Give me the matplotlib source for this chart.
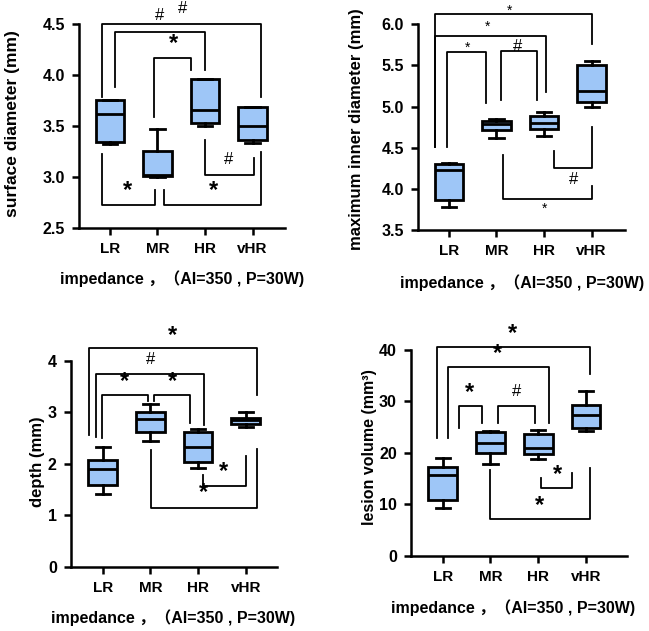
import matplotlib.pyplot as plt
import numpy as np

plt.rcParams['font.family'] = ['Liberation Sans', 'Noto Sans CJK SC']
plt.rcParams['font.weight'] = 'bold'
plt.rcParams['axes.labelweight'] = 'bold'

groups = ['LR', 'MR', 'HR', 'vHR']

# surface diameter (mm)
sd_min = [3.32, 3.00, 3.50, 3.33]
sd_q1 = [3.34, 3.01, 3.53, 3.36]
sd_med = [3.62, 3.02, 3.66, 3.50]
sd_q3 = [3.75, 3.25, 3.96, 3.69]
sd_max = [3.75, 3.47, 3.96, 3.69]

# maximum inner diameter (mm)
mid_min = [3.78, 4.62, 4.64, 5.00]
mid_q1 = [3.86, 4.71, 4.73, 5.05]
mid_med = [4.23, 4.79, 4.80, 5.19]
mid_q3 = [4.30, 4.83, 4.88, 5.51]
mid_max = [4.32, 4.85, 4.94, 5.55]

# depth (mm)
dp_min = [1.41, 2.45, 1.92, 2.72]
dp_q1 = [1.59, 2.62, 2.04, 2.77]
dp_med = [1.90, 2.87, 2.33, 2.85]
dp_q3 = [2.07, 3.00, 2.61, 2.90]
dp_max = [2.32, 3.16, 2.67, 3.00]

# lesion volume (mm3)
lv_min = [9.3, 17.9, 18.9, 24.2]
lv_q1 = [10.8, 20.0, 19.7, 24.9]
lv_med = [15.7, 22.0, 21.0, 27.3]
lv_q3 = [17.2, 24.0, 23.6, 29.4]
lv_max = [19.0, 24.2, 24.5, 32.1]

# significance brackets: x1, x2, y, left leg end, right leg end, label, label x, label y, big
sd_brk = [
    (-0.17, 3.18, 4.50, 3.78, 3.78, '#', 1.05, 4.58, False),
    (0.10, 2.00, 4.42, 3.88, 4.05, '*', 1.33, 4.31, True),
    (0.93, 1.70, 4.17, 3.59, 4.05, None, 0, 0, False),
    (-0.17, 0.95, 2.73, 3.23, 2.87, '*', 0.38, 2.87, True),
    (1.14, 3.18, 2.73, 2.87, 3.24, '*', 2.17, 2.87, True),
    (2.00, 3.03, 3.02, 3.36, 3.19, '#', 2.50, 3.17, False),
]
sd_extra = [('#', 1.52, 4.65)]

mid_brk = [
    (-0.29, 3.00, 6.125, 4.51, 5.76, '*', 1.28, 6.17, False),
    (-0.29, 2.04, 5.86, 4.51, 5.18, '*', 0.82, 5.97, False),
    (-0.03, 0.79, 5.66, 4.51, 5.04, '*', 0.39, 5.71, False),
    (1.09, 1.85, 5.68, 5.08, 5.08, '#', 1.45, 5.73, False),
    (2.20, 3.00, 4.25, 4.46, 4.75, '#', 2.62, 4.11, False),
    (1.14, 3.00, 3.88, 4.41, 4.03, '*', 2.00, 3.76, False),
]

dp_brk = [
    (-0.28, 3.23, 4.25, 2.56, 3.34, '*', 1.47, 4.50, True),
    (-0.13, 2.12, 3.74, 2.53, 2.75, '#', 1.00, 4.02, False),
    (-0.01, 0.94, 3.33, 2.50, 3.22, '*', 0.45, 3.60, True),
    (1.08, 1.83, 3.33, 3.22, 2.79, '*', 1.47, 3.60, True),
    (2.10, 3.00, 1.57, 1.78, 2.16, '*', 2.54, 1.86, True),
    (1.01, 3.23, 1.15, 2.27, 2.29, '*', 2.11, 1.44, True),
]

lv_brk = [
    (-0.11, 3.08, 40.65, 22.8, 35.3, '*', 1.46, 43.2, True),
    (0.12, 2.23, 36.75, 22.8, 25.9, '*', 1.15, 39.4, True),
    (0.34, 0.82, 29.1, 24.8, 25.9, '*', 0.57, 31.8, True),
    (1.15, 1.93, 29.1, 25.9, 25.9, '#', 1.54, 32.0, False),
    (2.06, 2.70, 13.2, 15.2, 16.0, '*', 2.40, 15.8, True),
    (0.99, 3.08, 7.06, 16.65, 17.0, '*', 2.02, 9.7, True),
]

fig = plt.figure(figsize=(6.49, 6.31), dpi=100)

xlab = 'impedance ，（AI=350 , P=30W)'


def draw_label(ax, lab, lx, ly, big):
    if lab == '*':
        if big:
            ax.text(lx, ly, '*', fontsize=17, fontweight='bold', ha='center', va='center', clip_on=False)
        else:
            ax.text(lx, ly, '*', fontsize=10, fontweight='normal', ha='center', va='center', clip_on=False)
    else:
        ax.text(lx, ly, '#', fontsize=12, fontweight='normal', ha='center', va='center', clip_on=False)


def draw_panel(rect, mins, q1s, meds, q3s, maxs, ylim, yticks, yticklabels, ylabel, brackets, xlim,
               ylab_pos, xlab_pos, ylab_size=12, extra=()):
    ax = fig.add_axes(rect)
    stats = []
    for i in range(len(groups)):
        stats.append(dict(whislo=mins[i], q1=q1s[i], med=meds[i], q3=q3s[i], whishi=maxs[i], label=groups[i]))
    ax.bxp(stats, positions=np.arange(len(groups)), widths=0.6, showfliers=False, patch_artist=True,
           boxprops=dict(facecolor='#9EC6F7', edgecolor='black', linewidth=2.0),
           medianprops=dict(color='black', linewidth=2.0),
           whiskerprops=dict(color='black', linewidth=2.0),
           capprops=dict(color='black', linewidth=2.0), capwidths=0.3)
    ax.set_xlim(*xlim)
    ax.set_ylim(*ylim)
    ax.set_yticks(yticks)
    ax.set_yticklabels(yticklabels, fontsize=11.5)
    ax.set_xticks(np.arange(len(groups)))
    ax.set_xticklabels(groups, fontsize=11)
    for s in ['top', 'right']:
        ax.spines[s].set_visible(False)
    for s in ['left', 'bottom']:
        ax.spines[s].set_linewidth(1.8)
    ax.tick_params(width=1.8, length=5, pad=5)
    ax.set_ylabel(ylabel, fontsize=ylab_size)
    ax.yaxis.set_label_coords(*ylab_pos)
    ax.set_xlabel(xlab, fontsize=11.5)
    ax.xaxis.set_label_coords(*xlab_pos)
    for x1, x2, y, yl, yr, lab, lx, ly, big in brackets:
        ax.plot([x1, x1, x2, x2], [yl, y, y, yr], color='black', lw=1.3, clip_on=False)
        if lab is not None:
            draw_label(ax, lab, lx, ly, big)
    for lab, lx, ly in extra:
        draw_label(ax, lab, lx, ly, False)
    return ax


draw_panel([0.1217, 0.6387, 0.3174, 0.3233], sd_min, sd_q1, sd_med, sd_q3, sd_max,
           (2.5, 4.5), [2.5, 3.0, 3.5, 4.0, 4.5], ['2.5', '3.0', '3.5', '4.0', '4.5'],
           'surface diameter (mm)', sd_brk, (-0.65, 3.68), (-0.286, 0.51), (0.5, -0.205), 12.5, sd_extra)

draw_panel([0.644, 0.6355, 0.319, 0.326], mid_min, mid_q1, mid_med, mid_q3, mid_max,
           (3.5, 6.0), [3.5, 4.0, 4.5, 5.0, 5.5, 6.0], ['3.5', '4.0', '4.5', '5.0', '5.5', '6.0'],
           'maximum inner diameter (mm)', mid_brk, (-0.65, 3.7), (-0.261, 0.49), (0.502, -0.215), 12)

draw_panel([0.109, 0.1019, 0.3174, 0.326], dp_min, dp_q1, dp_med, dp_q3, dp_max,
           (0, 4), [0, 1, 2, 3, 4], ['0', '1', '2', '3', '4'],
           'depth (mm)', dp_brk, (-0.67, 3.65), (-0.125, 0.51), (0.497, -0.205), 12)

draw_panel([0.6328, 0.1193, 0.3328, 0.326], lv_min, lv_q1, lv_med, lv_q3, lv_max,
           (0, 40), [0, 10, 20, 30, 40], ['0', '10', '20', '30', '40'],
           'lesion volume (mm³)', lv_brk, (-0.67, 3.85), (-0.156, 0.53), (0.474, -0.21), 11.5)

fig.savefig('out.png', dpi=100)
